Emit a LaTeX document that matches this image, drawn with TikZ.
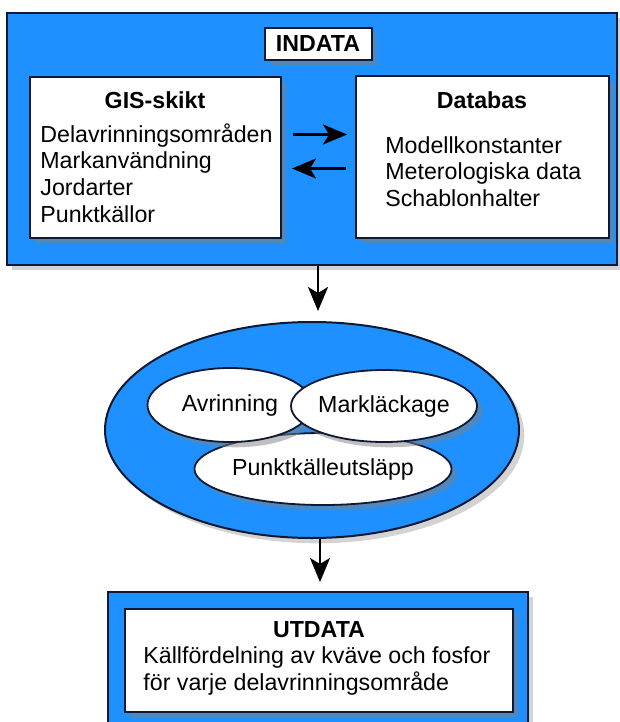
\documentclass[tikz,border=0pt]{standalone}
\usepackage{fontspec}
\setmainfont{Liberation Sans}
\usetikzlibrary{shadows,arrows.meta,shapes.geometric}
\definecolor{skyblue}{RGB}{30,144,255}
\definecolor{edge}{RGB}{15,25,50}

\begin{document}
\begin{tikzpicture}[x=0.5pt,y=-0.5pt,
  bluebox/.style={draw=edge, line width=1pt, fill=skyblue, inner sep=0pt,
    drop shadow={opacity=0.35}},
  whitebox/.style={draw=edge, line width=1pt, fill=white, inner sep=0pt,
    drop shadow={opacity=0.5}},
  blob/.style={ellipse, draw=edge, line width=0.9pt, fill=white, inner sep=0pt,
    drop shadow={opacity=0.5}},
  txt/.style={inner sep=0pt, font=\fontsize{11.6}{13.3}\selectfont},
  flow/.style={line width=1.3pt, -{Stealth[length=12pt,width=10pt,inset=3pt]}}]
\useasboundingbox (0,0) rectangle (620,722);

% input box
\node[bluebox, minimum width=305pt, minimum height=126pt] (indatabox) at (312,139) {};
\node[whitebox, minimum width=53.5pt, minimum height=16pt, txt] (indata) at (318,44) {\textbf{INDATA}};
\node[whitebox, minimum width=125.5pt, minimum height=80.5pt] (gis) at (155.5,157.5) {};
\node[whitebox, minimum width=126.5pt, minimum height=80.5pt] (db) at (482.5,157) {};
\node[txt] (gistitle) at (155,100) {\textbf{GIS-skikt}};
\node[txt, align=left, anchor=west] (gislist) at (40,173)
  {Delavrinningsområden\\Markanvändning\\Jordarter\\Punktkällor};
\node[txt] (dbtitle) at (482,100) {\textbf{Databas}};
\node[txt, align=left, anchor=west] (dblist) at (385,171.5)
  {Modellkonstanter\\Meterologiska data\\Schablonhalter};
\draw[flow] ([xshift=5.5pt,yshift=11.5pt]gis.east) -- ([xshift=-4pt,yshift=11.5pt]gis.east -| db.west);
\draw[flow] ([xshift=-4.5pt,yshift=-5.5pt]gis.east -| db.west) -- ([xshift=5pt,yshift=-5.5pt]gis.east);

% model
\node[bluebox, ellipse, minimum width=207pt, minimum height=108pt] (model) at (312,430) {};
\draw[flow, shorten >=5pt] ([xshift=3pt]indatabox.south) -- ([xshift=3pt]indatabox.south |- model.north);
\node[blob, minimum width=106.5pt, minimum height=36pt, txt] (punkt) at (323,469) {Punktkälleutsläpp};
\node[blob, minimum width=82.5pt, minimum height=37pt, txt] (avr) at (230,405) {Avrinning};
\node[blob, minimum width=92.5pt, minimum height=36pt, txt] (mark) at (384,406) {Markläckage};

% output box
\node[bluebox, minimum width=210pt, minimum height=69pt] (utbox) at (318,661) {};
\node[whitebox, minimum width=194pt, minimum height=51.5pt] (ut) at (319,660.5) {};
\node[txt] (uttitle) at (319,630) {\textbf{UTDATA}};
\node[txt, align=left, anchor=west] (utlist) at (143,671)
  {Källfördelning av kväve och fosfor\\för varje delavrinningsområde};
\draw[flow, shorten >=4.5pt] ([xshift=4pt]model.south) -- ([xshift=4pt]model.south |- utbox.north);
\end{tikzpicture}
\end{document}
